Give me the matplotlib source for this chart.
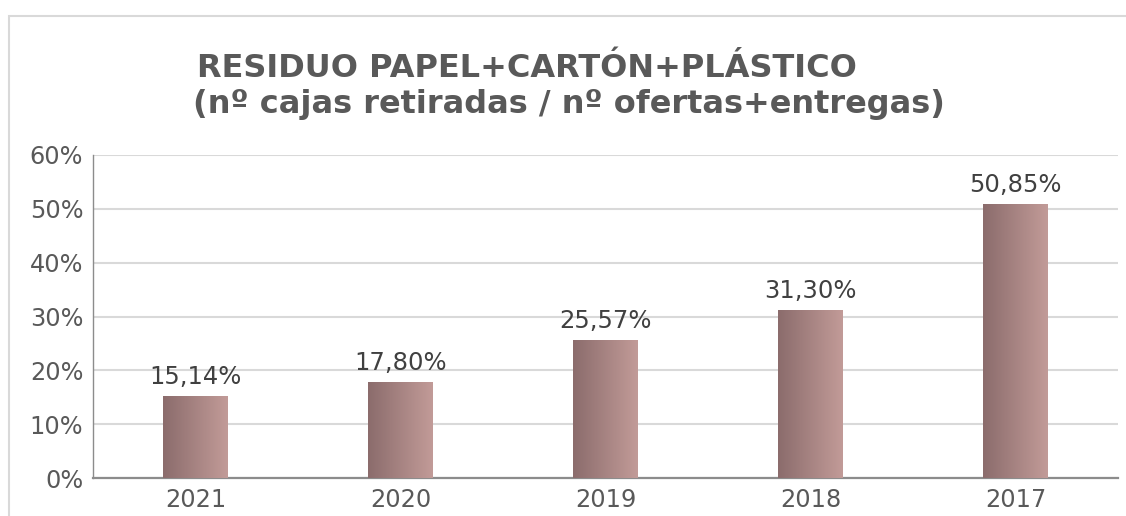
import matplotlib.pyplot as plt
import numpy as np
from matplotlib.patches import Rectangle
from matplotlib.colors import LinearSegmentedColormap

plt.rcParams['font.family'] = ['DejaVu Sans']

years = ['2021', '2020', '2019', '2018', '2017']
values = [15.14, 17.80, 25.57, 31.30, 50.85]
labels = ['15,14%', '17,80%', '25,57%', '31,30%', '50,85%']
yticks = [0, 10, 20, 30, 40, 50, 60]

W, H = 1126, 516
fig = plt.figure(figsize=(W / 100, H / 100), dpi=100)
fig.patch.set_facecolor('white')

# outer chart frame (cropped on the right and bottom)
fig.patches.append(Rectangle((9 / W, -0.1), 1.2, 1.1 - 16 / H, transform=fig.transFigure,
                             fill=False, edgecolor='#d9d9d9', lw=1.5, zorder=0))

ax = fig.add_axes([93 / W, 1 - 478 / H, (1118 - 93) / W, (478 - 155) / H])
x = np.arange(len(years))
bars = ax.bar(x, values, width=0.317, color='none', zorder=3)

# horizontal gradient fill, clipped to each bar
cmap = LinearSegmentedColormap.from_list('rosy', ['#8b6c6c', '#c29b98'])
grad = np.linspace(0, 1, 256).reshape(1, -1)
for b in bars:
    x0, y0 = b.get_x(), b.get_y()
    im = ax.imshow(grad, cmap=cmap, aspect='auto', zorder=3,
                   extent=[x0, x0 + b.get_width(), y0, y0 + b.get_height()])
    im.set_clip_path(b)

for xi, v, lab in zip(x, values, labels):
    ax.text(xi, v + 1.3, lab, ha='center', va='bottom', fontsize=17.5, color='#404040')

ax.set_xlim(-0.5, len(years) - 0.5)
ax.set_ylim(0, 60)
ax.set_xticks(x)
ax.set_xticklabels(years)
ax.set_yticks(yticks)
ax.set_yticklabels([f'{t}%' for t in yticks])
ax.tick_params(axis='both', length=0, labelsize=17.3, labelcolor='#595959')
ax.tick_params(axis='x', pad=7.5)
ax.tick_params(axis='y', pad=7)
ax.grid(axis='y', color='#d9d9d9', lw=1.5, zorder=0)
ax.set_axisbelow(True)
for s in ['top', 'right']:
    ax.spines[s].set_visible(False)
ax.spines['left'].set_color('#8c8c8c')
ax.spines['left'].set_linewidth(1)
ax.spines['bottom'].set_color('#8c8c8c')
ax.spines['bottom'].set_linewidth(1.6)

fig.text(197 / W, 1 - 77 / H, 'RESIDUO PAPEL+CARTÓN+PLÁSTICO', fontsize=23,
         fontweight='bold', color='#595959', ha='left', va='baseline')
fig.text(193 / W, 1 - 113 / H, '(nº cajas retiradas / nº ofertas+entregas)', fontsize=23,
         fontweight='bold', color='#595959', ha='left', va='baseline')

fig.savefig('out.png', dpi=100)
